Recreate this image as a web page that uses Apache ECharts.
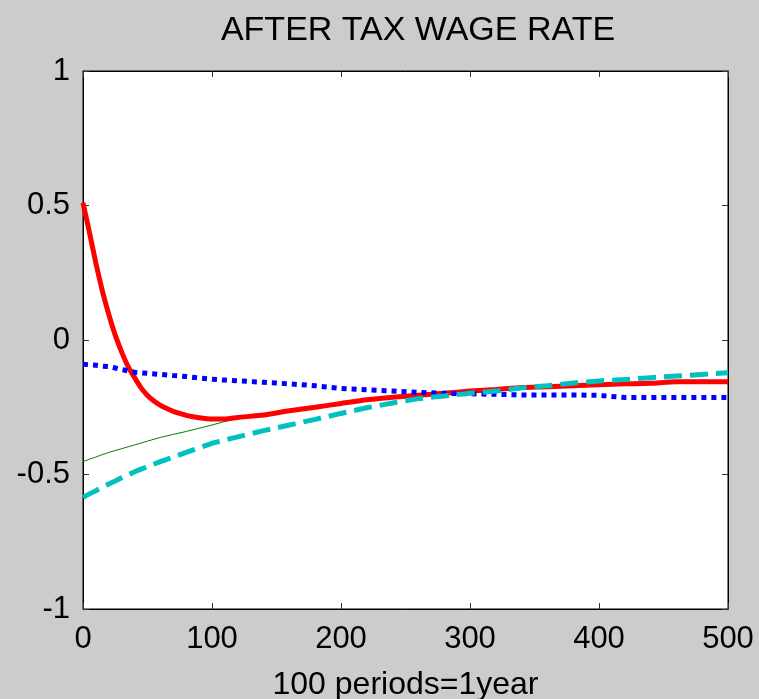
<!DOCTYPE html>
<html>
<head>
<meta charset="utf-8">
<script src="https://cdn.jsdelivr.net/npm/echarts@6/dist/echarts.min.js"></script>
<style>html,body{margin:0;padding:0;background:#cccccc;}#c{width:759px;height:699px;}</style>
</head>
<body>
<div id="c"></div>
<script>
// periods (x values) for green / blue / cyan
var periods = [0,5,10,15,20,25,30,35,40,45,50,60,70,80,90,100,110,120,140,160,180,200,220,240,260,280,300,320,340,360,380,400,420,440,460,480,500];
// periods for red (denser near the trough)
var redPeriods = [0,5,10,15,20,25,30,35,40,45,50,55,60,65,70,75,80,90,100,110,120,140,160,180,200,220,240,260,280,300,320,340,360,380,400,420,440,460,480,500];
// red solid thick
var redVals = [0.51,0.40,0.285,0.183,0.095,0.018,-0.045,-0.099,-0.14,-0.178,-0.206,-0.227,-0.243,-0.255,-0.265,-0.273,-0.28,-0.289,-0.294,-0.294,-0.288,-0.279,-0.263,-0.25,-0.236,-0.222,-0.213,-0.205,-0.198,-0.19,-0.184,-0.177,-0.174,-0.17,-0.166,-0.163,-0.161,-0.155,-0.155,-0.155];
// green thin solid
var greenVals = [-0.452,-0.443,-0.435,-0.426,-0.418,-0.411,-0.404,-0.397,-0.39,-0.383,-0.376,-0.362,-0.351,-0.34,-0.328,-0.316,-0.303,-0.29,-0.281,-0.265,-0.252,-0.238,-0.224,-0.215,-0.207,-0.2,-0.192,-0.186,-0.179,-0.176,-0.172,-0.168,-0.165,-0.163,-0.157,-0.157,-0.157];
// blue dotted
var blueVals = [-0.09,-0.092,-0.094,-0.097,-0.099,-0.104,-0.11,-0.115,-0.12,-0.122,-0.124,-0.128,-0.132,-0.136,-0.141,-0.146,-0.149,-0.152,-0.157,-0.163,-0.17,-0.18,-0.185,-0.19,-0.195,-0.198,-0.2,-0.202,-0.204,-0.204,-0.204,-0.206,-0.214,-0.214,-0.214,-0.214,-0.214];
// cyan dashed
var cyanVals = [-0.585,-0.572,-0.56,-0.547,-0.535,-0.524,-0.512,-0.501,-0.49,-0.48,-0.471,-0.452,-0.435,-0.418,-0.401,-0.384,-0.372,-0.36,-0.337,-0.316,-0.295,-0.273,-0.252,-0.234,-0.218,-0.208,-0.198,-0.19,-0.178,-0.17,-0.16,-0.152,-0.147,-0.14,-0.134,-0.128,-0.122];
var xTicks = [0,100,200,300,400,500];
var yTicks = [-1,-0.5,0,0.5,1];
var titleText = 'AFTER TAX WAGE RATE';
var xName = '100 periods=1year';

function pairs(xs, v){ return xs.map(function(t,i){ return [t, v[i]]; }); }

var font = 'Liberation Sans, Arial, sans-serif';
var chart = echarts.init(document.getElementById('c'), null, {renderer:'canvas'});
var tick = {show: true, inside: true, length: 6, lineStyle: {color: '#333'}};
chart.setOption({
  backgroundColor: '#cccccc',
  animation: false,
  title: {
    text: titleText, left: 413, top: 9, textAlign: 'center',
    textStyle: {fontFamily: font, fontSize: 34, fontWeight: 'normal', color: '#000'}
  },
  grid: {left: 83, top: 71, right: 31, bottom: 90, containLabel: false, outerBoundsMode: 'none', show: true, backgroundColor: '#ffffff', borderColor: '#000', borderWidth: 1},
  xAxis: [{
    type: 'value', min: 0, max: 500, interval: 100, position: 'bottom',
    name: xName, nameLocation: 'middle', nameGap: 60,
    nameTextStyle: {fontFamily: font, fontSize: 32, color: '#000'},
    axisLine: {show: true, onZero: false, lineStyle: {color: '#000', width: 1}},
    axisTick: tick,
    axisLabel: {fontFamily: font, fontSize: 31, color: '#000', margin: 15,
      formatter: function(v){ return xTicks.indexOf(v) >= 0 ? String(v) : ''; }},
    splitLine: {show: false}
  },{
    type: 'value', min: 0, max: 500, interval: 100, position: 'top',
    axisLine: {show: true, onZero: false, lineStyle: {color: '#000'}},
    axisTick: tick,
    axisLabel: {show: false}, splitLine: {show: false}
  }],
  yAxis: [{
    type: 'value', min: -1, max: 1, interval: 0.5, position: 'left',
    axisLine: {show: true, onZero: false, lineStyle: {color: '#000', width: 1}},
    axisTick: tick,
    axisLabel: {fontFamily: font, fontSize: 31, color: '#000', margin: 13,
      formatter: function(v){ return yTicks.indexOf(v) >= 0 ? String(v) : ''; }},
    splitLine: {show: false}
  },{
    type: 'value', min: -1, max: 1, interval: 0.5, position: 'right',
    axisLine: {show: true, onZero: false, lineStyle: {color: '#000'}},
    axisTick: tick,
    axisLabel: {show: false}, splitLine: {show: false}
  }],
  series: [
    {type: 'line', data: pairs(periods, greenVals), showSymbol: false, symbol: 'none', lineStyle: {color: '#008000', width: 1}, z: 2},
    {type: 'line', data: pairs(redPeriods, redVals), showSymbol: false, symbol: 'none', smooth: 0.2, lineStyle: {color: '#ff0000', width: 5}, z: 3},
    {type: 'line', data: pairs(periods, blueVals), showSymbol: false, symbol: 'none', lineStyle: {color: '#0000ff', width: 5, type: [5, 5], cap: 'butt'}, z: 4},
    {type: 'line', data: pairs(periods, cyanVals), showSymbol: false, symbol: 'none', lineStyle: {color: '#00c0c0', width: 5, type: [18, 8], cap: 'butt'}, z: 5}
  ]
});
</script>
</body>
</html>
